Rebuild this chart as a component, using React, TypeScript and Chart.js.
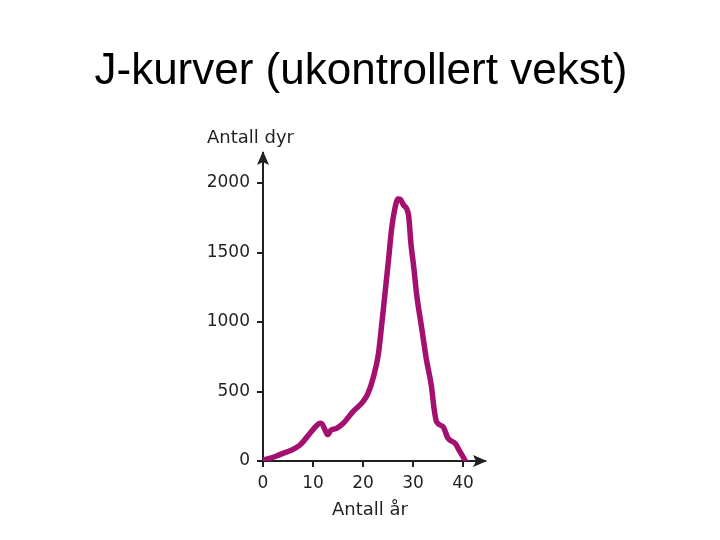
import React, { useEffect, useRef } from "react";
import { Chart, registerables } from "chart.js";

Chart.register(...registerables);

const TITLE = "J-kurver (ukontrollert vekst)";
const Y_TITLE = "Antall dyr";
const X_TITLE = "Antall år";

const years = [
  0, 1.5, 2.7, 4, 5.4, 7.4, 9.4, 10.6, 11.4, 11.8, 12.3, 12.9, 13.6, 14.7, 16,
  18, 20, 21, 22.1, 23.1, 23.7, 24.4, 25.1, 25.7, 26.4, 27.0, 27.5, 28.1, 29.1,
  29.6, 30.2, 30.7, 31.7, 32.7, 33.7, 34.2, 34.7, 36, 37, 38.4, 39.4, 40.4,
];
const animals = [
  8, 20, 36, 55, 74, 115, 200, 250, 272, 268, 232, 190, 222, 235, 270, 355,
  427, 487, 606, 775, 966, 1206, 1446, 1662, 1820, 1885, 1880, 1842, 1770,
  1560, 1380, 1206, 966, 727, 535, 380, 283, 247, 163, 127, 67, 5,
];

const xTicks = [0, 10, 20, 30, 40];
const yTicks = [0, 500, 1000, 1500, 2000];

const X_MAX = 44.4;
const Y_MAX = 2216;

const INK = "#231f20";
const LINE = "#a3106f";

export default function App() {
  const ref = useRef<HTMLCanvasElement>(null);

  useEffect(() => {
    document.body.style.margin = "0";
    const canvas = ref.current;
    if (!canvas) return;

    const overlay = {
      id: "overlay",
      afterDraw(chart: any) {
        const ctx = chart.ctx;
        const { left, right, top, bottom } = chart.chartArea;
        ctx.save();
        ctx.fillStyle = "#000";
        ctx.font = "44px 'Liberation Sans', Arial, sans-serif";
        ctx.textAlign = "center";
        ctx.textBaseline = "alphabetic";
        ctx.fillText(TITLE, 361, 84);

        ctx.fillStyle = INK;
        ctx.font = "18px 'DejaVu Sans', sans-serif";
        ctx.textAlign = "left";
        ctx.textBaseline = "middle";
        ctx.fillText(Y_TITLE, 207, 138);
        ctx.textAlign = "center";
        ctx.fillText(X_TITLE, 370, 510);

        // arrow heads
        ctx.beginPath();
        ctx.moveTo(left, top - 2);
        ctx.lineTo(left - 6, top + 12);
        ctx.lineTo(left, top + 9);
        ctx.lineTo(left + 6, top + 12);
        ctx.closePath();
        ctx.fill();

        ctx.beginPath();
        ctx.moveTo(right + 2, bottom);
        ctx.lineTo(right - 12, bottom - 6);
        ctx.lineTo(right - 9, bottom);
        ctx.lineTo(right - 12, bottom + 6);
        ctx.closePath();
        ctx.fill();
        ctx.restore();
      },
    };

    const tickFont = { family: "'DejaVu Sans', sans-serif", size: 17 };

    const chart = new Chart(canvas, {
      type: "line",
      data: {
        datasets: [
          {
            data: years.map((x, i) => ({ x, y: animals[i] })),
            borderColor: LINE,
            borderWidth: 5.5,
            pointRadius: 0,
            cubicInterpolationMode: "monotone",
            borderCapStyle: "round",
            borderJoinStyle: "round",
            fill: false,
          },
        ],
      },
      options: {
        animation: false,
        responsive: false,
        layout: { padding: { top: 153, right: 235, bottom: 0, left: 0 } },
        plugins: {
          legend: { display: false },
          tooltip: { enabled: false },
          title: { display: false },
        },
        scales: {
          x: {
            type: "linear",
            min: 0,
            max: X_MAX,
            afterBuildTicks(s: any) {
              s.ticks = xTicks.map((v) => ({ value: v }));
            },
            ticks: {
              font: tickFont,
              color: INK,
              padding: 6,
              maxRotation: 0,
              autoSkip: false,
              callback: (v: any) => String(v),
            },
            grid: {
              drawOnChartArea: false,
              tickLength: 6,
              color: INK,
              lineWidth: 2,
            },
            border: { color: INK, width: 2 },
            afterFit(s: any) {
              s.height = 79;
            },
          },
          y: {
            type: "linear",
            min: 0,
            max: Y_MAX,
            afterBuildTicks(s: any) {
              s.ticks = yTicks.map((v) => ({ value: v }));
            },
            ticks: {
              font: tickFont,
              color: INK,
              padding: 7,
              autoSkip: false,
              callback: (v: any) => String(v),
            },
            grid: {
              drawOnChartArea: false,
              tickLength: 6,
              color: INK,
              lineWidth: 2,
            },
            border: { color: INK, width: 2 },
            afterFit(s: any) {
              s.width = 263;
            },
          },
        },
      },
      plugins: [overlay],
    });

    return () => chart.destroy();
  }, []);

  return (
    <div style={{ position: "absolute", left: 0, top: 0, width: 720, height: 540, background: "#fff" }}>
      <canvas ref={ref} width={720} height={540} />
    </div>
  );
}
